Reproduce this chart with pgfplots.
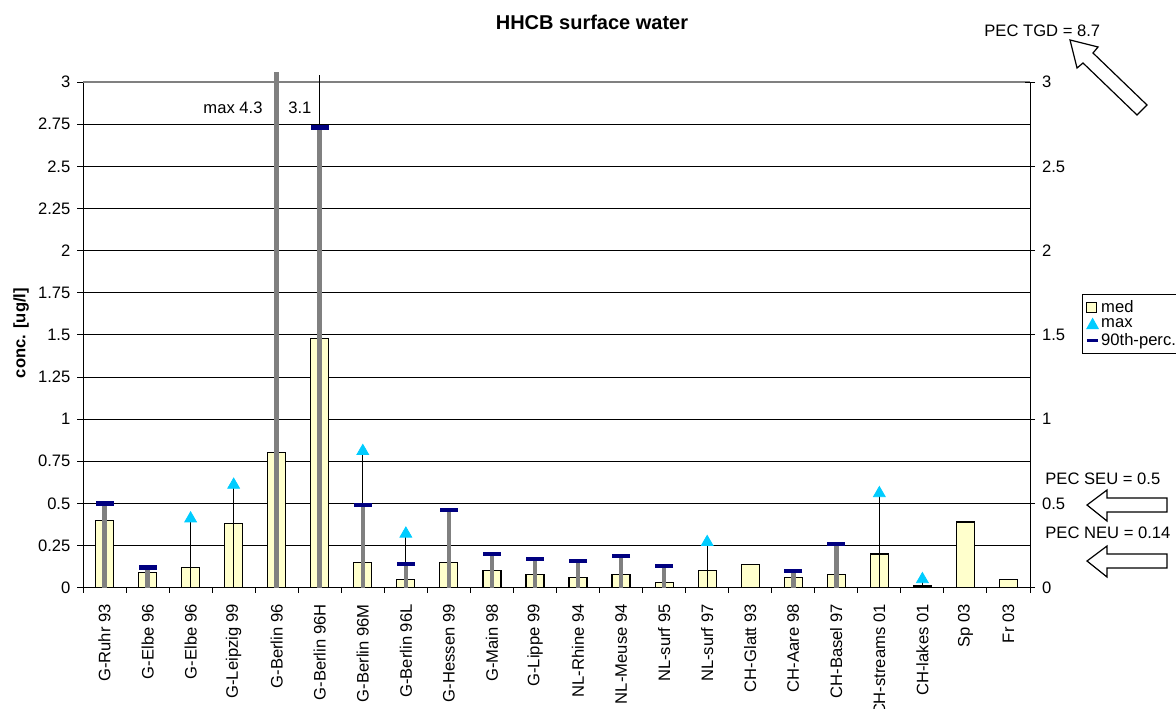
\documentclass[border=0pt]{standalone}
\usepackage{fontspec}
\setmainfont{Liberation Sans}
\usepackage{pgfplots}
\usepackage{pgfplotstable}
\pgfplotsset{compat=1.18}
\definecolor{medfill}{HTML}{FFFFCC}
\definecolor{maxc}{HTML}{00CCFF}
\definecolor{pnavy}{HTML}{000080}
\definecolor{greyl}{HTML}{808080}

\pgfplotstableread{
i med
0 0.40
1 0.09
2 0.12
3 0.38
4 0.80
5 1.48
6 0.15
7 0.05
8 0.15
9 0.10
10 0.08
11 0.06
12 0.08
13 0.03
14 0.10
15 0.14
16 0.06
17 0.08
18 0.20
19 0.01
20 0.39
21 0.05
}\medtab

% 90th percentile (grey line up to it); Berlin 96 line runs off the top
\pgfplotstableread{
i p
0 0.50
1 0.12
4 3.06
5 2.73
6 0.49
7 0.14
8 0.46
9 0.20
10 0.17
11 0.16
12 0.19
13 0.13
16 0.10
17 0.26
}\ptab

\pgfplotstableread{
i p
0 0.50
1 0.12
5 2.73
6 0.49
7 0.14
8 0.46
9 0.20
10 0.17
11 0.16
12 0.19
13 0.13
16 0.10
17 0.26
}\pmarktab

% max (thin black line up to it); Berlin 96H line runs off the top
\pgfplotstableread{
i m
2 0.41
3 0.61
5 3.04
6 0.81
7 0.32
14 0.27
18 0.56
19 0.05
}\mtab

\pgfplotstableread{
i m
2 0.41
3 0.61
6 0.81
7 0.32
14 0.27
18 0.56
19 0.05
}\mmarktab

\newcommand{\fs}{\fontsize{8.3}{10}\selectfont}

\begin{document}
\begin{tikzpicture}
\useasboundingbox (0,0) rectangle (588pt,354pt);
\begin{axis}[
  at={(41.5pt,60.15pt)}, anchor=south west,
  width=473.5pt, height=252.85pt, scale only axis,
  xmin=-0.5, xmax=21.5, ymin=0, ymax=3,
  clip=false,
  axis x line*=bottom, axis y line*=left,
  axis line style={line width=0.5pt, black},
  tick align=outside,
  xtick={0,...,21},
  xticklabels={G-Ruhr 93,G-Elbe 96,G-Elbe 96,G-Leipzig 99,G-Berlin 96,G-Berlin 96H,G-Berlin 96M,G-Berlin 96L,G-Hessen 99,G-Main 98,G-Lippe 99,NL-Rhine 94,NL-Meuse 94,NL-surf 95,NL-surf 97,CH-Glatt 93,CH-Aare 98,CH-Basel 97,CH-streams 01,CH-lakes 01,Sp 03,Fr 03},
  major x tick style={draw=none},
  minor xtick={-0.5,0.5,...,21.5},
  minor x tick style={black, line width=0.5pt},
  ytick={0,0.25,...,3},
  ytick style={black, line width=0.5pt},
  ymajorgrids,
  major grid style={black, line width=0.45pt},
  major tick length=2.8pt, minor tick length=2.4pt,
  /pgf/number format/assume math mode=true,
  yticklabel style={font=\fs},
  xticklabel style={rotate=90, anchor=east, font=\fs},
  xticklabel shift=2pt,
  legend style={at={(1.055,0.581)}, anchor=north west, draw=black, line width=0.5pt,
    fill=white, font=\fs, inner xsep=1.5pt, inner ysep=0.8pt, row sep=-2.4pt,
    nodes={inner xsep=1pt}},
  legend cell align=left,
]
\addlegendimage{legend image code/.code={\draw[fill=medfill,draw=black,line width=0.5pt] (0pt,-2.5pt) rectangle (5pt,2.5pt);}}
\addlegendentry{med}
\addlegendimage{legend image code/.code={\fill[maxc] (0pt,-2.2pt) -- (5.6pt,-2.2pt) -- (2.8pt,2.8pt) -- cycle;}}
\addlegendentry{max}
\addlegendimage{legend image code/.code={\draw[pnavy,line width=1.4pt] (0pt,0pt) -- (5.4pt,0pt);}}
\addlegendentry{90th-perc.}

\draw[greyl, line width=1pt] (rel axis cs:0,1) -- (rel axis cs:1,1);

\addplot[ybar, bar width=9pt, fill=medfill, draw=black, line width=0.6pt, forget plot]
  table[x=i, y=med] {\medtab};
\addplot[ycomb, black, line width=0.6pt, no marks, forget plot]
  table[x=i, y=m] {\mtab};
\addplot[ycomb, greyl, line width=2.3pt, no marks, forget plot]
  table[x=i, y=p] {\ptab};
\addplot[only marks, mark=-, mark size=4.5pt, pnavy, mark options={line width=2.1pt}, forget plot]
  table[x=i, y=p] {\pmarktab};
\addplot[only marks, mark=triangle*, mark size=3.4pt, maxc, mark options={draw=maxc, fill=maxc}, forget plot]
  table[x=i, y=m] {\mmarktab};

\node[anchor=east, inner sep=0pt, font=\fs] at (axis cs:3.68,2.85) {max 4.3};
\node[anchor=west, inner sep=0pt, font=\fs] at (axis cs:4.26,2.85) {3.1};
\end{axis}

% inner minor ticks of the left axis
\begin{axis}[
  at={(41.5pt,60.15pt)}, anchor=south west,
  width=473.5pt, height=252.85pt, scale only axis,
  xmin=-0.5, xmax=21.5, ymin=0, ymax=3,
  axis x line=none, axis y line*=left,
  axis line style={draw=none},
  tick align=inside,
  ytick=\empty,
  minor ytick={0.05,0.1,...,2.96},
  minor tick length=2.2pt,
  minor y tick style={black, line width=0.45pt},
]
\end{axis}

% right axis
\begin{axis}[
  at={(41.5pt,60.15pt)}, anchor=south west,
  width=473.5pt, height=252.85pt, scale only axis,
  xmin=-0.5, xmax=21.5, ymin=0, ymax=3,
  axis x line=none, axis y line*=right,
  axis line style={line width=0.5pt, black},
  tick align=center,
  ytick={0,0.5,...,3},
  ytick style={black, line width=0.5pt},
  major tick length=5pt,
  /pgf/number format/assume math mode=true,
  yticklabel style={font=\fs},
]
\end{axis}

\begin{scope}[x=0.5pt, y=-0.5pt, yshift=354pt]
  \node[font=\fontsize{10}{12}\selectfont\bfseries] at (592,22) {HHCB surface water};
  \node[font=\fs\bfseries, rotate=90] at (21,333) {conc. [ug/l]};
  \node[font=\fs, anchor=west, inner sep=0pt] at (984,31) {PEC TGD = 8.7};
  \node[font=\fs, anchor=west, inner sep=0pt] at (1045,479) {PEC SEU = 0.5};
  \node[font=\fs, anchor=west, inner sep=0pt] at (1045,533) {PEC NEU = 0.14};
  \draw[black, line width=0.6pt, fill=white]
    (1070,40) -- (1098,47) -- (1093,53) -- (1147,105) -- (1137,115) -- (1083,63) -- (1077,68) -- cycle;
  \draw[black, line width=0.6pt, fill=white]
    (1087,505) -- (1107,490) -- (1107,498) -- (1167,498) -- (1167,512) -- (1107,512) -- (1107,521) -- cycle;
  \draw[black, line width=0.6pt, fill=white]
    (1087,561) -- (1107,546) -- (1107,554) -- (1167,554) -- (1167,568) -- (1107,568) -- (1107,577) -- cycle;
\end{scope}
\end{tikzpicture}
\end{document}
